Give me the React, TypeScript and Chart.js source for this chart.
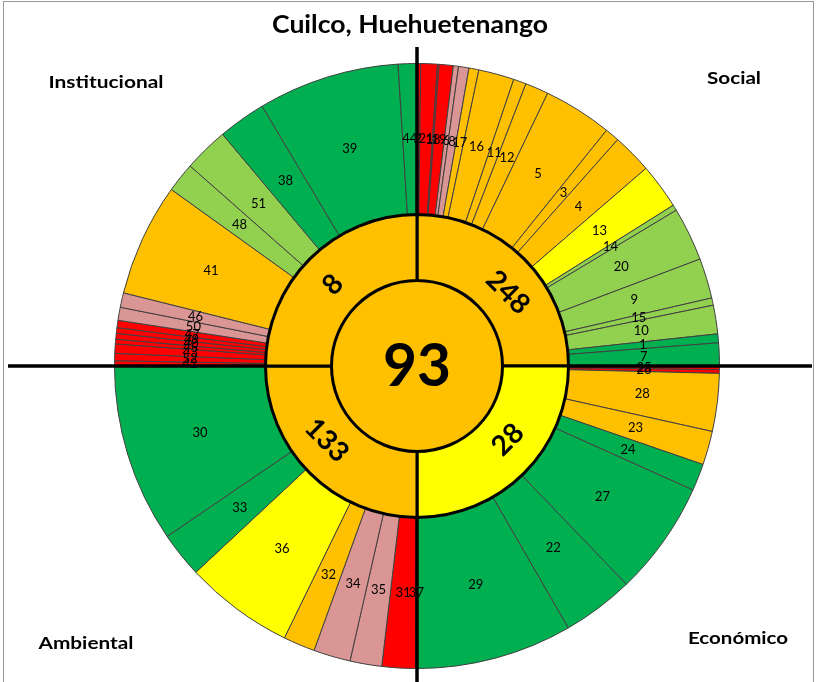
import React, { useEffect, useRef } from 'react';
import { Chart, registerables } from 'chart.js';

Chart.register(...registerables);

// ---------- data ----------
const TITLE = 'Cuilco, Huehuetenango';
const CENTER_SCORE = 93;
const CENTER_LEVEL = 'orange';

const DIMENSIONS = ['Social', 'Económico', 'Ambiental', 'Institucional'];
const DIMENSION_SCORES = [248, 28, 133, 8];
const DIMENSION_LEVELS = ['orange', 'yellow', 'orange', 'orange'];
const DIMENSION_SHARE = [1, 1, 1, 1];

const SOCIAL_IDS = ['2', '21', '18', '19', '6', '8', '17', '16', '11', '12', '5', '3', '4', '13', '14', '20', '9', '15', '10', '1', '7'];
const SOCIAL_WEIGHTS = [0.7, 3.2, 0.3, 2.7, 1.0, 2.0, 1.9, 6.85, 2.45, 4.5, 13.2, 2.75, 7.65, 8.7, 1.1, 10.3, 7.7, 1.4, 5.5, 1.7, 4.4];
const SOCIAL_LEVELS = ['red', 'red', 'red', 'red', 'pink', 'pink', 'orange', 'orange', 'orange', 'orange', 'orange', 'orange', 'orange', 'yellow', 'lightgreen', 'lightgreen', 'lightgreen', 'lightgreen', 'lightgreen', 'green', 'green'];

const ECONOMIC_IDS = ['25', '26', '28', '23', '24', '27', '22', '29'];
const ECONOMIC_WEIGHTS = [0.7, 0.7, 11.1, 6.5, 5.2, 22, 13.8, 30];
const ECONOMIC_LEVELS = ['red', 'red', 'orange', 'orange', 'green', 'green', 'green', 'green'];

const ENVIRONMENT_IDS = ['37', '31', '35', '34', '32', '36', '33', '30'];
const ENVIRONMENT_WEIGHTS = [0.3, 6.4, 6.1, 7.1, 6.1, 21, 8.7, 34.3];
const ENVIRONMENT_LEVELS = ['red', 'red', 'pink', 'pink', 'orange', 'yellow', 'green', 'green'];

const INSTITUTIONAL_IDS = ['42', '52', '43', '45', '40', '49', '47', '50', '46', '41', '48', '51', '38', '39', '44'];
const INSTITUTIONAL_WEIGHTS = [1.0, 1.4, 1.8, 0.9, 1.1, 1.1, 1.4, 2.5, 2.8, 21.7, 5.7, 8.6, 9.2, 27.2, 3.6];
const INSTITUTIONAL_LEVELS = ['red', 'red', 'red', 'red', 'red', 'red', 'red', 'pink', 'pink', 'orange', 'lightgreen', 'lightgreen', 'green', 'green', 'green'];

// ---------- styles ----------
const LEVEL_COLORS: Record<string, string> = {
  red: '#FF0000',
  pink: '#DA9694',
  orange: '#FFC000',
  yellow: '#FFFF00',
  lightgreen: '#92D050',
  green: '#00B050',
};

const FONT = 'Lato, "Open Sans", sans-serif';

const ALL_IDS = [...SOCIAL_IDS, ...ECONOMIC_IDS, ...ENVIRONMENT_IDS, ...INSTITUTIONAL_IDS];
const ALL_WEIGHTS = [...SOCIAL_WEIGHTS, ...ECONOMIC_WEIGHTS, ...ENVIRONMENT_WEIGHTS, ...INSTITUTIONAL_WEIGHTS];
const ALL_LEVELS = [...SOCIAL_LEVELS, ...ECONOMIC_LEVELS, ...ENVIRONMENT_LEVELS, ...INSTITUTIONAL_LEVELS];

function drawFitted(
  ctx: CanvasRenderingContext2D,
  text: string,
  x: number,
  y: number,
  font: string,
  targetWidth?: number,
  rotation = 0
) {
  ctx.save();
  ctx.font = font;
  ctx.textAlign = 'center';
  ctx.textBaseline = 'middle';
  const w = ctx.measureText(text).width;
  ctx.translate(x, y);
  ctx.rotate(rotation);
  if (targetWidth) ctx.scale(targetWidth / w, 1);
  ctx.fillText(text, 0, 0);
  ctx.restore();
}

const decorPlugin = {
  id: 'decor',
  beforeDatasetDraw(chart: any, args: any) {
    if (args.index !== 2) return;
    const arc = chart.getDatasetMeta(2).data[0];
    const ctx = chart.ctx as CanvasRenderingContext2D;
    ctx.save();
    ctx.strokeStyle = '#000';
    ctx.lineWidth = 3.5;
    ctx.beginPath();
    ctx.moveTo(arc.x, 47);
    ctx.lineTo(arc.x, chart.height);
    ctx.moveTo(8, arc.y);
    ctx.lineTo(812, arc.y);
    ctx.stroke();
    ctx.restore();
  },
  afterDatasetsDraw(chart: any) {
    const ctx = chart.ctx as CanvasRenderingContext2D;
    ctx.fillStyle = '#000';
    // outer ring labels
    const outer = chart.getDatasetMeta(0).data;
    outer.forEach((el: any, i: number) => {
      const p = el.getCenterPoint();
      drawFitted(ctx, ALL_IDS[i], p.x, p.y, `13px ${FONT}`);
    });
    // inner ring labels
    const inner = chart.getDatasetMeta(1).data;
    const shifts = [6, -6, 5.5, -1];
    inner.forEach((el: any, i: number) => {
      const mid = (el.startAngle + el.endAngle) / 2 + (shifts[i] * Math.PI) / 180;
      const r = 117;
      const x = el.x + r * Math.cos(mid);
      const y = el.y + r * Math.sin(mid);
      const rot = i % 2 === 0 ? Math.PI / 4 : -Math.PI / 4;
      drawFitted(ctx, String(DIMENSION_SCORES[i]), x, y, `bold 28px ${FONT}`, undefined, rot);
    });
    // center
    const c = chart.getDatasetMeta(2).data[0];
    drawFitted(ctx, String(CENTER_SCORE), c.x, c.y + 1, `bold 60px ${FONT}`, 68);
  },
  afterDraw(chart: any) {
    const ctx = chart.ctx as CanvasRenderingContext2D;
    ctx.save();
    ctx.strokeStyle = '#9a9a9a';
    ctx.lineWidth = 1;
    ctx.strokeRect(3.5, 1.5, 810, 700);
    ctx.restore();
    ctx.fillStyle = '#000';
    drawFitted(ctx, TITLE, 410, 25, `bold 24px ${FONT}`, 276);
    const pos = [
      [734, 79, 54],
      [738, 639, 100],
      [86, 644, 95],
      [106, 83, 115],
    ];
    DIMENSIONS.forEach((d, i) => {
      drawFitted(ctx, d, pos[i][0], pos[i][1], `bold 17px ${FONT}`, pos[i][2]);
    });
  },
};

export default function App() {
  const ref = useRef<HTMLCanvasElement>(null);
  useEffect(() => {
    if (!ref.current) return;
    const chart = new Chart(ref.current, {
      type: 'doughnut',
      data: {
        labels: ALL_IDS,
        datasets: [
          {
            data: ALL_WEIGHTS,
            backgroundColor: ALL_LEVELS.map((l) => LEVEL_COLORS[l]),
            borderColor: '#404040',
            borderWidth: 1,
            hoverBorderWidth: 1,
            hoverOffset: 0,
            offset: 0,
            weight: 151,
            order: 3,
          } as any,
          {
            data: DIMENSION_SHARE,
            backgroundColor: DIMENSION_LEVELS.map((l) => LEVEL_COLORS[l]),
            borderColor: '#000',
            borderWidth: 3,
            hoverBorderWidth: 3,
            hoverOffset: 0,
            offset: 0,
            weight: 66,
            order: 1,
          } as any,
          {
            data: [CENTER_SCORE],
            backgroundColor: [LEVEL_COLORS[CENTER_LEVEL]],
            borderWidth: 0,
            hoverBorderWidth: 0,
            hoverOffset: 0,
            offset: 0,
            weight: 85.5,
            order: 2,
          } as any,
        ],
      },
      options: {
        responsive: false,
        animation: false,
        events: [],
        cutout: 0,
        radius: 302.5,
        layout: { padding: { left: 17, right: 0, top: 50, bottom: 0 } },
        plugins: {
          legend: { display: false },
          tooltip: { enabled: false },
          title: { display: false },
        },
      } as any,
      plugins: [decorPlugin],
    });
    return () => chart.destroy();
  }, []);
  return (
    <div style={{ position: 'fixed', left: 0, top: 0, width: 817, height: 682, background: '#fff' }}>
      <canvas ref={ref} width={817} height={682} style={{ display: 'block' }} />
    </div>
  );
}
